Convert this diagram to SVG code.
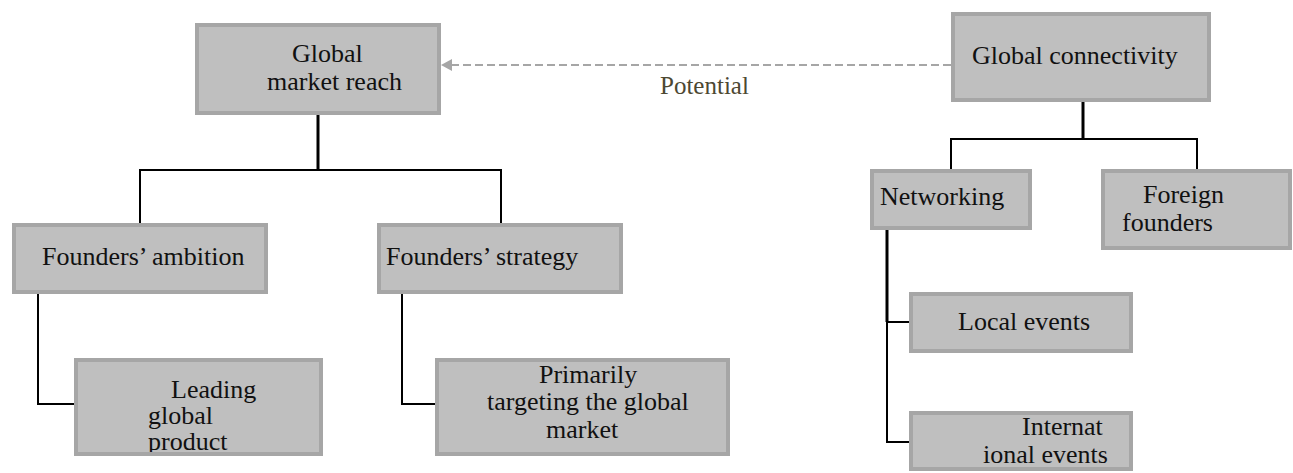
<svg xmlns="http://www.w3.org/2000/svg" width="1293" height="473" viewBox="0 0 1293 473">
  <style>
    .box { fill: #bfbfbf; stroke: #a6a6a6; stroke-width: 4; }
    text { font-family: 'Times New Roman', Times, 'Liberation Serif', 'DejaVu Serif', serif; font-size: 26px; fill: #111111; }
    .link { fill: none; stroke: #000000; stroke-width: 2; }
    .trunk { fill: none; stroke: #000000; stroke-width: 3; }
    .dash { fill: none; stroke: #a6a6a6; stroke-width: 2; stroke-dasharray: 8 4; }
  </style>
  <defs>
    <clipPath id="clip-leading">
      <rect x="78" y="362" width="241" height="90"/>
    </clipPath>
  </defs>
  <rect width="1293" height="473" fill="#ffffff"/>

  <!-- connectors -->
  <g id="connectors">
    <path class="trunk" d="M318,115 V170"/>
    <path class="link" d="M140,223 V170 H501 V223"/>
    <path class="link" d="M38,294 V404 H76"/>
    <path class="link" d="M402,294 V404 H437"/>
    <path class="trunk" d="M1083,102 V139"/>
    <path class="link" d="M951,169 V139 H1197 V169"/>
    <path class="trunk" d="M887,230 V322"/>
    <path class="link" d="M887,321 V442 H911"/>
    <path class="link" d="M887,322 H911"/>
    <path class="dash" d="M951,65 H451"/>
    <polygon points="441,65 452,59 452,71" fill="#a6a6a6"/>
    <text x="660" y="94" style="fill:#4d4832;font-size:25px">Potential</text>
  </g>

  <g id="global-market-reach">
    <rect class="box" x="197" y="25" width="242" height="88"/>
    <text x="292" y="62">Global</text>
    <text x="267" y="90">market reach</text>
  </g>

  <g id="global-connectivity">
    <rect class="box" x="953" y="14" width="256" height="86"/>
    <text x="972" y="64">Global connectivity</text>
  </g>

  <g id="founders-ambition">
    <rect class="box" x="14" y="225" width="252" height="67"/>
    <text x="42" y="265">Founders’ ambition</text>
  </g>

  <g id="founders-strategy">
    <rect class="box" x="379" y="225" width="242" height="67"/>
    <text x="386" y="265">Founders’ strategy</text>
  </g>

  <g id="leading-global-product">
    <rect class="box" x="76" y="360" width="245" height="94"/>
    <g clip-path="url(#clip-leading)">
      <text x="171" y="398">Leading</text>
      <text x="148" y="424">global</text>
      <text x="148" y="450">product</text>
    </g>
  </g>

  <g id="targeting-global-market">
    <rect class="box" x="437" y="360" width="291" height="94"/>
    <text x="539" y="383">Primarily</text>
    <text x="487" y="410">targeting the global</text>
    <text x="546" y="438">market</text>
  </g>

  <g id="networking">
    <rect class="box" x="872" y="171" width="158" height="57"/>
    <text x="880" y="205">Networking</text>
  </g>

  <g id="foreign-founders">
    <rect class="box" x="1103" y="171" width="187" height="77"/>
    <text x="1143" y="203">Foreign</text>
    <text x="1122" y="231">founders</text>
  </g>

  <g id="local-events">
    <rect class="box" x="911" y="294" width="220" height="57"/>
    <text x="958" y="330">Local events</text>
  </g>

  <g id="international-events">
    <rect class="box" x="911" y="413" width="220" height="56"/>
    <text x="1022" y="435">Internat</text>
    <text x="983" y="463">ional events</text>
  </g>
</svg>
